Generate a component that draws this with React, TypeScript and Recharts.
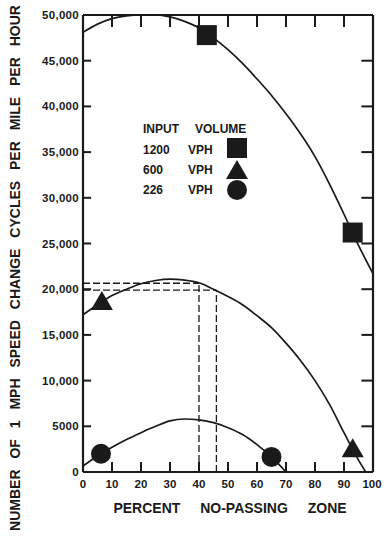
import React from "react";
import { ComposedChart, Line, Scatter, XAxis, YAxis, ReferenceLine } from "recharts";

// ---- axes ----
const xTicks = [0, 10, 20, 30, 40, 50, 60, 70, 80, 90, 100];
const xTickLabels = ["0", "10", "20", "30", "40", "50", "60", "70", "80", "90", "100"];
const yTicks = [0, 5000, 10000, 15000, 20000, 25000, 30000, 35000, 40000, 45000, 50000];
const yTickLabels = ["0", "5000", "10,000", "15,000", "20,000", "25,000", "30,000", "35,000", "40,000", "45,000", "50,000"];
const innerXTicks = [10, 20, 30, 40, 50, 60, 70, 80, 90];
const innerYTicks = [5000, 10000, 15000, 20000, 25000, 30000, 35000, 40000, 45000];

// ---- fitted curves ----
const curve1200X = [0, 5, 10, 15, 20, 25, 30, 35, 40, 45, 50, 55, 60, 65, 70, 75, 80, 85, 90, 95, 100];
const curve1200Y = [48100, 49000, 49600, 49900, 50000, 50000, 49800, 49300, 48600, 47500, 46200, 44700, 43000, 41200, 39200, 37000, 34500, 31500, 28200, 24800, 21700];

const curve600X = [0, 5, 10, 15, 20, 25, 30, 35, 40, 45, 50, 55, 60, 65, 70, 75, 80, 85, 90, 95, 97.5];
const curve600Y = [17200, 18300, 19300, 20000, 20600, 20950, 21100, 21000, 20700, 20000, 19200, 18300, 17100, 15800, 14100, 12200, 10000, 7400, 4300, 1300, 0];

const curve226X = [0, 5, 10, 15, 20, 25, 30, 35, 40, 45, 50, 55, 60, 65, 70];
const curve226Y = [650, 1750, 2700, 3550, 4300, 5000, 5600, 5800, 5700, 5400, 4850, 4100, 3000, 1650, 0];

// ---- observed points ----
const obs1200X = [42.7, 93];
const obs1200Y = [47800, 26200];
const obs600X = [6.5, 93];
const obs600Y = [18700, 2600];
const obs226X = [6.2, 65];
const obs226Y = [2000, 1650];

// ---- dashed guide lines ----
const guideX = [40, 46];
const guideY = [20650, 19900];

// tick mark lengths in axis units (about 10-12 px on the bottom/top, 8-12 px left/right)
const bottomTickLen = 1100;
const topTickLen = 1300;
const leftTickLen = 2.8;
const rightTickLen = 4;

const ink = "#1a1a1a";
const font = "'Liberation Sans', Arial, sans-serif";

const toPts = (xs: number[], ys: number[]) => xs.map((x, i) => ({ x, y: ys[i] }));

const Square = (p: any) => <rect x={p.cx - 10} y={p.cy - 10} width={20} height={20} fill={ink} />;
const Triangle = (p: any) => (
  <polygon points={`${p.cx},${p.cy - 10} ${p.cx + 11},${p.cy + 9} ${p.cx - 11},${p.cy + 9}`} fill={ink} />
);
const Circle = (p: any) => <circle cx={p.cx} cy={p.cy} r={10} fill={ink} />;

const XTick = (p: any) => (
  <text x={p.x} y={p.y} dy="0.71em" textAnchor="middle" fontSize={11.5} fontWeight="bold" fontFamily={font} fill={ink}>
    {xTickLabels[xTicks.indexOf(p.payload.value)]}
  </text>
);
const YTick = (p: any) => (
  <text x={p.x} y={p.y} dy="0.355em" textAnchor="end" fontSize={11.5} fontWeight="bold" fontFamily={font} fill={ink} letterSpacing={0.3}>
    {yTickLabels[yTicks.indexOf(p.payload.value)]}
  </text>
);

const App = () => {
  return (
    <div style={{ position: "relative", width: 384, height: 536 }}>
      <style>{"body{margin:0;background:#fff}"}</style>

      {/* labels and legend */}
      <svg width={384} height={536} style={{ position: "absolute", left: 0, top: 0 }}>
        <g fontFamily={font} fontWeight="bold" fill={ink}>
          <text x={15} y={268} transform="rotate(-90 15 268)" textAnchor="middle" dy="0.36em" fontSize={14} wordSpacing={7}>
            NUMBER OF 1 MPH SPEED CHANGE CYCLES PER MILE PER HOUR
          </text>
          <text x={230} y={508} textAnchor="middle" dy="0.36em" fontSize={14} wordSpacing={16}>
            PERCENT NO-PASSING ZONE
          </text>
          <text x={143} y={129} dy="0.36em" fontSize={12}>INPUT</text>
          <text x={195} y={129} dy="0.36em" fontSize={12}>VOLUME</text>
          <text x={143} y={150} dy="0.36em" fontSize={12}>1200</text>
          <text x={188} y={150} dy="0.36em" fontSize={12}>VPH</text>
          <text x={143} y={170} dy="0.36em" fontSize={12}>600</text>
          <text x={188} y={170} dy="0.36em" fontSize={12}>VPH</text>
          <text x={143} y={190} dy="0.36em" fontSize={12}>226</text>
          <text x={188} y={190} dy="0.36em" fontSize={12}>VPH</text>
          <Square cx={237} cy={148} />
          <Triangle cx={237} cy={170} />
          <Circle cx={237} cy={190} />
        </g>
      </svg>

      <div style={{ position: "absolute", left: 0, top: 0 }}>
        <ComposedChart width={384} height={536} margin={{ top: 15, right: 11, bottom: 24, left: 23 }}>
          <XAxis
            dataKey="x"
            type="number"
            domain={[0, 100]}
            ticks={xTicks}
            height={40}
            tickSize={0}
            tickMargin={8}
            tick={<XTick />}
            tickLine={false}
            axisLine={{ stroke: ink, strokeWidth: 2.2 }}
          />
          <YAxis
            type="number"
            domain={[0, 50000]}
            ticks={yTicks}
            width={60}
            tickSize={0}
            tickMargin={4}
            tick={<YTick />}
            tickLine={false}
            axisLine={{ stroke: ink, strokeWidth: 2.2 }}
          />

          {/* top and right frame */}
          <ReferenceLine segment={[{ x: 0, y: 50000 }, { x: 100, y: 50000 }]} stroke={ink} strokeWidth={2.2} />
          <ReferenceLine segment={[{ x: 100, y: 0 }, { x: 100, y: 50000 }]} stroke={ink} strokeWidth={2.2} />

          {/* inward tick marks */}
          {innerXTicks.map((x) => (
            <ReferenceLine key={"b" + x} segment={[{ x, y: 0 }, { x, y: bottomTickLen }]} stroke={ink} strokeWidth={2} />
          ))}
          {innerXTicks.map((x) => (
            <ReferenceLine key={"t" + x} segment={[{ x, y: 50000 }, { x, y: 50000 - topTickLen }]} stroke={ink} strokeWidth={2} />
          ))}
          {innerYTicks.map((y) => (
            <ReferenceLine key={"l" + y} segment={[{ x: 0, y }, { x: leftTickLen, y }]} stroke={ink} strokeWidth={2} />
          ))}
          {innerYTicks.map((y) => (
            <ReferenceLine key={"r" + y} segment={[{ x: 100, y }, { x: 100 - rightTickLen, y }]} stroke={ink} strokeWidth={2} />
          ))}

          {guideX.map((gx, i) => (
            <ReferenceLine
              key={"h" + i}
              segment={[{ x: 0, y: guideY[i] }, { x: gx, y: guideY[i] }]}
              stroke={ink}
              strokeWidth={1.3}
              strokeDasharray="7 3"
            />
          ))}
          {guideX.map((gx, i) => (
            <ReferenceLine
              key={"v" + i}
              segment={[{ x: gx, y: 0 }, { x: gx, y: guideY[i] }]}
              stroke={ink}
              strokeWidth={1.3}
              strokeDasharray="7 3"
            />
          ))}

          <Line data={toPts(curve1200X, curve1200Y)} dataKey="y" type="monotone" stroke={ink} strokeWidth={1.7} dot={false} isAnimationActive={false} />
          <Line data={toPts(curve600X, curve600Y)} dataKey="y" type="monotone" stroke={ink} strokeWidth={1.7} dot={false} isAnimationActive={false} />
          <Line data={toPts(curve226X, curve226Y)} dataKey="y" type="monotone" stroke={ink} strokeWidth={1.7} dot={false} isAnimationActive={false} />

          <Scatter data={toPts(obs1200X, obs1200Y)} dataKey="y" shape={<Square />} isAnimationActive={false} />
          <Scatter data={toPts(obs600X, obs600Y)} dataKey="y" shape={<Triangle />} isAnimationActive={false} />
          <Scatter data={toPts(obs226X, obs226Y)} dataKey="y" shape={<Circle />} isAnimationActive={false} />
        </ComposedChart>
      </div>
    </div>
  );
};

export default App;
